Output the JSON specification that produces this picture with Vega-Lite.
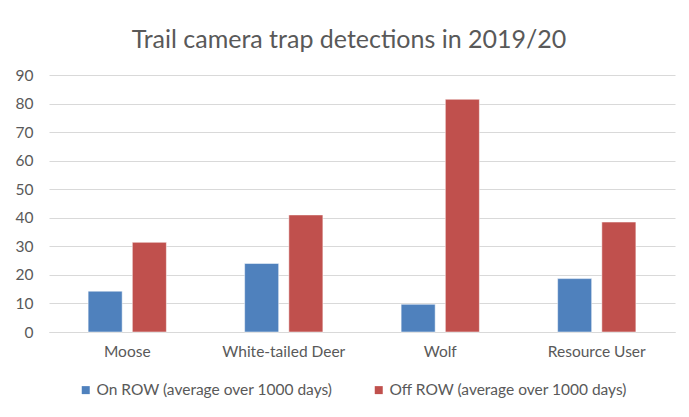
{
  "$schema": "https://vega.github.io/schema/vega-lite/v6.json",
  "width": 626,
  "height": 257,
  "autosize": "none",
  "padding": {"left": 49, "top": 75, "right": 14, "bottom": 85},
  "background": "white",
  "title": {
    "text": "Trail camera trap detections in 2019/20",
    "anchor": "middle",
    "dx": -13,
    "offset": 15,
    "font": "Lato",
    "fontSize": 25,
    "fontWeight": "normal",
    "color": "#595959"
  },
  "data": {
    "values": [
      {"category": "Moose", "series": "On ROW (average over 1000 days)", "value": 14.3},
      {"category": "Moose", "series": "Off ROW (average over 1000 days)", "value": 31.4},
      {"category": "White-tailed Deer", "series": "On ROW (average over 1000 days)", "value": 24.0},
      {"category": "White-tailed Deer", "series": "Off ROW (average over 1000 days)", "value": 41.0},
      {"category": "Wolf", "series": "On ROW (average over 1000 days)", "value": 9.7},
      {"category": "Wolf", "series": "Off ROW (average over 1000 days)", "value": 81.5},
      {"category": "Resource User", "series": "On ROW (average over 1000 days)", "value": 18.7},
      {"category": "Resource User", "series": "Off ROW (average over 1000 days)", "value": 38.5}
    ]
  },
  "mark": {"type": "bar", "stroke": "white", "strokeWidth": 0.5},
  "encoding": {
    "x": {
      "field": "category",
      "type": "nominal",
      "sort": ["Moose", "White-tailed Deer", "Wolf", "Resource User"],
      "scale": {"paddingInner": 0.5, "paddingOuter": 0.25},
      "axis": {
        "title": null,
        "labelAngle": 0,
        "ticks": false,
        "domainColor": "#d9d9d9",
        "labelPadding": 12,
        "labelFont": "Lato",
        "labelFontSize": 15.5,
        "labelColor": "#595959"
      }
    },
    "xOffset": {
      "field": "series",
      "type": "nominal",
      "sort": ["On ROW (average over 1000 days)", "Off ROW (average over 1000 days)"],
      "scale": {"paddingInner": 0.23, "paddingOuter": 0}
    },
    "y": {
      "field": "value",
      "type": "quantitative",
      "scale": {"domain": [0, 90]},
      "axis": {
        "title": null,
        "values": [0, 10, 20, 30, 40, 50, 60, 70, 80, 90],
        "domain": false,
        "ticks": false,
        "gridColor": "#d9d9d9",
        "labelPadding": 16,
        "labelFont": "Lato",
        "labelFontSize": 15.5,
        "labelColor": "#595959"
      }
    },
    "color": {
      "field": "series",
      "type": "nominal",
      "sort": ["On ROW (average over 1000 days)", "Off ROW (average over 1000 days)"],
      "scale": {"range": ["#4f81bd", "#c0504d"]},
      "legend": {
        "title": null,
        "orient": "none",
        "legendX": 29,
        "legendY": 307,
        "direction": "horizontal",
        "columns": 2,
        "columnPadding": 38,
        "symbolType": "square",
        "symbolSize": 64,
        "symbolStrokeWidth": 0,
        "labelFont": "Lato",
        "labelFontSize": 15.5,
        "labelLimit": 0,
        "labelOffset": 3,
        "labelColor": "#595959",
        "padding": 0
      }
    }
  },
  "config": {"view": {"stroke": null}}
}
